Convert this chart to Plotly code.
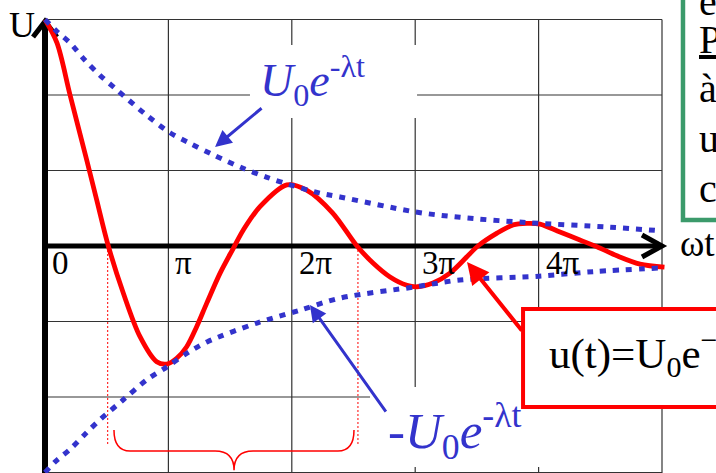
import plotly.graph_objects as go

# ---------------- data (x in multiples of pi, y in grid units) ----------------
u_x = [0.0, 0.097, 0.203, 0.338, 0.419, 0.513, 0.635, 0.770, 0.905, 0.986, 1.067, 1.148,
       1.229, 1.310, 1.418, 1.526, 1.607, 1.742, 1.96, 2.12, 2.33, 2.528, 2.658, 2.796,
       2.933, 3.015, 3.144, 3.282, 3.509, 3.663, 3.793, 3.906, 4.011, 4.173, 4.335, 4.473,
       4.635, 4.822, 5.02]
u_y = [3.0, 2.69, 2.0, 1.139, 0.609, 0.0, -0.626, -1.201, -1.532, -1.563, -1.487, -1.334,
       -1.069, -0.76, -0.362, -0.03, 0.212, 0.521, 0.81, 0.74, 0.44, 0.0, -0.225, -0.41,
       -0.52, -0.54, -0.49, -0.36, 0.0, 0.17, 0.28, 0.30, 0.29, 0.185, 0.08, -0.01,
       -0.13, -0.24, -0.28]

env_up_x = [0.0, 0.097, 0.203, 0.324, 0.446, 0.567, 0.81, 1.013, 1.175, 1.361,
            1.605, 1.799, 1.985, 2.229, 2.391, 3.006, 3.363, 3.906, 4.578, 5.0]
env_up_y = [3.0, 2.84, 2.69, 2.46, 2.26, 2.09, 1.75, 1.50, 1.36, 1.21,
            1.03, 0.91, 0.81, 0.70, 0.65, 0.45, 0.38, 0.31, 0.25, 0.20]

env_lo_x = [0.0, 0.081, 0.211, 0.332, 0.446, 0.632, 0.827, 0.989, 1.151, 1.313,
            1.718, 2.066, 2.391, 3.006, 3.363, 4.003, 4.441, 5.0]
env_lo_y = [-3.0, -2.86, -2.68, -2.48, -2.30, -2.04, -1.77, -1.60, -1.42, -1.27,
            -1.02, -0.85, -0.69, -0.54, -0.45, -0.40, -0.34, -0.29]

tick_vals = [0, 1, 2, 3, 4]
tick_labels = ["0", "π", "2π", "3π", "4π"]
period_marks = [0.508, 2.536]
green_lines = ["e", "<u>P</u>", "à", "u", "co"]

RED = "#ff0000"
BLUE = "#3333cc"
GREEN = "#3b9a6b"
SERIF = "Liberation Serif, Times New Roman, serif"

X_RANGE = [-0.3647, 5.4376]
Y_RANGE = [-3.0066, 3.2583]

fig = go.Figure()
fig.add_trace(go.Scatter(x=u_x, y=u_y, mode="lines",
                         line=dict(color=RED, width=4.8, shape="spline", smoothing=0.9),
                         hoverinfo="skip"))
for xs, ys in [(env_up_x, env_up_y), (env_lo_x, env_lo_y)]:
    fig.add_trace(go.Scatter(x=xs, y=ys, mode="lines",
                             line=dict(color=BLUE, width=5, dash="6px,7px", shape="spline", smoothing=0.9),
                             hoverinfo="skip"))

shapes = []
# grid
for k in range(1, 6):
    shapes.append(dict(type="line", x0=k, x1=k, y0=-3.2, y1=3, layer="below",
                       line=dict(color="#333", width=1.2)))
for k in [-3, -2, -1, 1, 2, 3]:
    shapes.append(dict(type="line", x0=0, x1=5, y0=k, y1=k, layer="below",
                       line=dict(color="#333", width=1.2)))
# white backgrounds behind the blue labels
shapes.append(dict(type="rect", x0=1.661, x1=3.015, y0=1.695, y1=2.662, layer="below",
                   line=dict(width=0), fillcolor="white"))
shapes.append(dict(type="rect", x0=2.634, x1=4.498, y0=-2.927, y1=-1.868, layer="below",
                   line=dict(width=0), fillcolor="white"))
# period markers
for p in period_marks:
    shapes.append(dict(type="line", x0=p, x1=p, y0=0, y1=-2.64, layer="below",
                       line=dict(color=RED, width=1, dash="2px,2px")))
# brace
shapes.append(dict(type="path", layer="below",
                   path="M 0.559,-2.437 Q 0.559,-2.715 0.689,-2.715 L 1.378,-2.715 "
                        "Q 1.532,-2.715 1.532,-2.97 Q 1.532,-2.715 1.686,-2.715 "
                        "L 2.374,-2.715 Q 2.504,-2.715 2.504,-2.437",
                   line=dict(color=RED, width=1.5)))
# axes
shapes.append(dict(type="line", x0=0, x1=0, y0=-3.2, y1=2.96, layer="below",
                   line=dict(color="black", width=6)))
shapes.append(dict(type="path", layer="below", path="M -0.097,2.768 L 0,2.975 L 0.097,2.768",
                   line=dict(color="black", width=5)))
shapes.append(dict(type="line", x0=0, x1=4.99, y0=0, y1=0, layer="below",
                   line=dict(color="black", width=5)))
shapes.append(dict(type="path", layer="below", path="M 4.838,0.146 L 5.0,0 L 4.838,-0.146",
                   line=dict(color="black", width=5)))
# red formula box
shapes.append(dict(type="rect", x0=3.874, x1=6.0, y0=-2.132, y1=-0.834, layer="above",
                   line=dict(color=RED, width=4), fillcolor="white"))
# green text box
shapes.append(dict(type="rect", x0=5.170, x1=6.0, y0=0.344, y1=3.6, layer="above",
                   line=dict(color=GREEN, width=4.5), fillcolor="white"))

ann = []
for v, t in zip(tick_vals, tick_labels):
    ann.append(dict(x=v, y=-0.22, text=t, showarrow=False, xanchor="left", yanchor="middle",
                    xshift=5, font=dict(family=SERIF, size=33, color="black")))
ann.append(dict(x=-0.186, y=2.93, text="U", showarrow=False, xanchor="center", yanchor="middle",
                font=dict(family=SERIF, size=36, color="black")))
ann.append(dict(x=5.130, y=0.03, text="ωt", showarrow=False, xanchor="left", yanchor="middle",
                font=dict(family=SERIF, size=37, color="black")))
ann.append(dict(x=2.165, y=2.19, text="<i>U</i><sub>0</sub><i>e</i><sup>-λt</sup>",
                showarrow=False, xanchor="center", yanchor="middle",
                font=dict(family=SERIF, size=46, color=BLUE)))
ann.append(dict(x=3.323, y=-2.45, text="-<i>U</i><sub>0</sub><i>e</i><sup>-λt</sup>",
                showarrow=False, xanchor="center", yanchor="middle",
                font=dict(family=SERIF, size=51, color=BLUE)))
ann.append(dict(x=4.065, y=-1.43, text="u(t)=U<sub>0</sub>e<sup>−λt</sup>cos(ωt)",
                showarrow=False, xanchor="left", yanchor="middle",
                font=dict(family=SERIF, size=43, color="black")))
green_y = [3.24, 2.736, 2.087, 1.425, 0.763]
for gy, t in zip(green_y, green_lines):
    ann.append(dict(x=5.284, y=gy, text=t, showarrow=False, xanchor="left", yanchor="middle",
                    font=dict(family=SERIF, size=40, color="black")))
# arrows
for (hx, hy, tx, ty, col, w) in [(1.378, 1.311, 1.767, 1.841, BLUE, 3),
                                   (2.147, -0.781, 2.771, -2.212, BLUE, 3),
                                   (3.420, -0.212, 3.874, -1.139, RED, 4)]:
    ann.append(dict(x=hx, y=hy, ax=tx, ay=ty, xref="x", yref="y", axref="x", ayref="y",
                    text="", showarrow=True, arrowhead=2, arrowsize=1.1, arrowwidth=w,
                    arrowcolor=col, standoff=0))

fig.update_layout(
    width=716, height=473, margin=dict(l=0, r=0, t=0, b=0),
    paper_bgcolor="white", plot_bgcolor="white", showlegend=False,
    xaxis=dict(range=X_RANGE, visible=False, fixedrange=True),
    yaxis=dict(range=Y_RANGE, visible=False, fixedrange=True),
    shapes=shapes, annotations=ann, hovermode=False,
)
fig.write_html("out.html", config={"displayModeBar": False},
               post_script="document.body.style.margin='0';document.body.style.overflow='hidden';")
